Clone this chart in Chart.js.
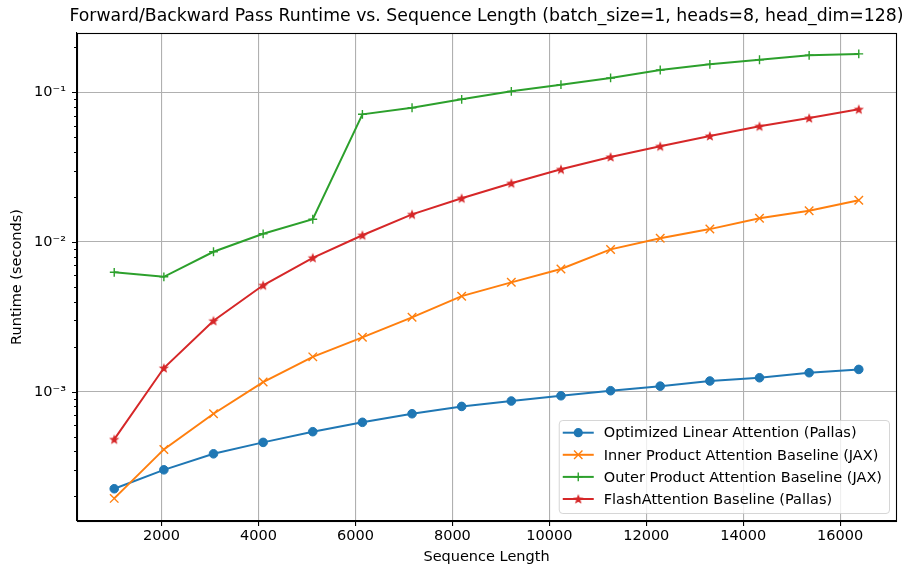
<!DOCTYPE html>
<html>
<head>
<meta charset="utf-8">
<script src="https://cdn.jsdelivr.net/npm/chart.js@4.4.1/dist/chart.umd.min.js"></script>
<style>
  html, body { margin: 0; padding: 0; background: #fff; }
  canvas { display: block; }
</style>
</head>
<body>
<canvas id="runtime_graph" width="911" height="566"></canvas>
<script>
// sequence lengths (x) and runtimes in seconds
var seqLens = [1024, 2048, 3072, 4096, 5120, 6144, 7168, 8192, 9216, 10240, 11264, 12288, 13312, 14336, 15360, 16384];

var linearPallas = [2.25e-4, 3.01e-4, 3.85e-4, 4.59e-4, 5.41e-4, 6.25e-4, 7.13e-4, 7.98e-4,
                    8.67e-4, 9.40e-4, 1.016e-3, 1.09e-3, 1.18e-3, 1.24e-3, 1.34e-3, 1.41e-3];
var innerJax = [1.94e-4, 4.12e-4, 7.13e-4, 1.16e-3, 1.71e-3, 2.31e-3, 3.14e-3, 4.35e-3,
                5.38e-3, 6.61e-3, 8.93e-3, 1.06e-2, 1.22e-2, 1.44e-2, 1.62e-2, 1.90e-2];
var outerJax = [6.28e-3, 5.86e-3, 8.61e-3, 1.135e-2, 1.42e-2, 7.13e-2, 7.89e-2, 8.98e-2,
                0.1015, 0.1125, 0.1247, 0.141, 0.1538, 0.165, 0.1767, 0.1805];
var flashPallas = [4.81e-4, 1.44e-3, 2.98e-3, 5.14e-3, 7.85e-3, 1.11e-2, 1.53e-2, 1.96e-2,
                   2.47e-2, 3.06e-2, 3.70e-2, 4.36e-2, 5.11e-2, 5.93e-2, 6.73e-2, 7.70e-2];

var labels = [
  "Optimized Linear Attention (Pallas)",
  "Inner Product Attention Baseline (JAX)",
  "Outer Product Attention Baseline (JAX)",
  "FlashAttention Baseline (Pallas)"
];
var xTicks = [2000, 4000, 6000, 8000, 10000, 12000, 14000, 16000];
var titleText = "Forward/Backward Pass Runtime vs. Sequence Length (batch_size=1, heads=8, head_dim=128)";

var FONT = "'DejaVu Sans', sans-serif";
var FS = 14.5;

function pairs(ys) {
  var out = [];
  for (var i in seqLens) out.push({x: seqLens[i], y: ys[i]});
  return out;
}

// filled 5-point star like matplotlib '*'
function makeStar(color) {
  var c = document.createElement('canvas');
  c.width = 14; c.height = 14;
  var g = c.getContext('2d');
  var R = 5.4, r = R * 0.42;
  g.beginPath();
  for (var k = 0; k < 10; k++) {
    var rad = (k % 2 === 0) ? R : r;
    var a = -Math.PI / 2 + k * Math.PI / 5;
    var px = 7 + rad * Math.cos(a), py = 7.4 + rad * Math.sin(a);
    if (k === 0) g.moveTo(px, py); else g.lineTo(px, py);
  }
  g.closePath();
  g.fillStyle = color;
  g.fill();
  return c;
}
var redStar = makeStar('#d62728');

function isDecade(v) {
  var e = Math.log10(v);
  return Math.abs(e - Math.round(e)) < 1e-6;
}
function sup(n) {
  var map = {'-': '\u207B', '0': '\u2070', '1': '\u00B9', '2': '\u00B2', '3': '\u00B3',
             '4': '\u2074', '5': '\u2075', '6': '\u2076', '7': '\u2077', '8': '\u2078', '9': '\u2079'};
  return String(n).split('').map(function(ch){ return map[ch]; }).join('');
}

var chartdata = {
  datasets: [
    {
      label: labels[0], data: pairs(linearPallas),
      borderColor: '#1f77b4', backgroundColor: '#1f77b4',
      pointStyle: 'circle', pointRadius: 4.3, pointBorderWidth: 1, order: 3
    },
    {
      label: labels[1], data: pairs(innerJax),
      borderColor: '#ff7f0e', backgroundColor: '#ff7f0e',
      pointStyle: 'crossRot', pointRadius: 6, pointBorderWidth: 1.4, order: 2
    },
    {
      label: labels[2], data: pairs(outerJax),
      borderColor: '#2ca02c', backgroundColor: '#2ca02c',
      pointStyle: 'cross', pointRadius: 4.4, pointBorderWidth: 1.4, order: 1
    },
    {
      label: labels[3], data: pairs(flashPallas),
      borderColor: '#d62728', backgroundColor: '#d62728',
      pointStyle: redStar, pointRadius: 5, order: 0
    }
  ]
};

var framePlugin = {
  id: 'frame',
  afterDraw: function(chart) {
    var ctx = chart.ctx, a = chart.chartArea;
    ctx.save();

    // y ticks: long at decades, short for minor
    var ys = chart.scales.y;
    ctx.strokeStyle = '#000';
    ctx.lineWidth = 1;
    ys.ticks.forEach(function(t) {
      var py = Math.round(ys.getPixelForValue(t.value)) + 0.5;
      var len = isDecade(t.value) ? 5 : 3;
      ctx.beginPath();
      ctx.moveTo(a.left - len, py);
      ctx.lineTo(a.left, py);
      ctx.stroke();
    });

    // axes box
    ctx.lineWidth = 1.1;
    ctx.strokeRect(Math.round(a.left) + 0.5, Math.round(a.top) + 0.5,
                   Math.round(a.right - a.left), Math.round(a.bottom - a.top));

    // title centred over the axes
    ctx.fillStyle = '#000';
    ctx.font = "17.3px " + FONT;
    ctx.textAlign = 'center';
    ctx.textBaseline = 'middle';
    ctx.fillText(titleText, (a.left + a.right) / 2, 17);

    // legend, lower right inside the axes
    ctx.font = FS + "px " + FONT;
    var maxW = 0;
    chart.data.datasets.forEach(function(ds) {
      maxW = Math.max(maxW, ctx.measureText(ds.label).width);
    });
    var bw = 4 + 31 + 10 + maxW + 7, bh = 93;
    var bx = a.right - 7 - bw, by = a.bottom - 8 - bh;
    ctx.beginPath();
    if (ctx.roundRect) ctx.roundRect(bx + 0.5, by + 0.5, bw, bh, 3.5);
    else ctx.rect(bx + 0.5, by + 0.5, bw, bh);
    ctx.fillStyle = 'rgba(255,255,255,0.8)';
    ctx.fill();
    ctx.strokeStyle = 'rgba(204,204,204,0.8)';
    ctx.lineWidth = 1;
    ctx.stroke();

    chart.data.datasets.forEach(function(ds, i) {
      var cy = by + 12.7 + i * 22.1;
      var x0 = bx + 4, x1 = x0 + 31, mx = (x0 + x1) / 2;
      ctx.strokeStyle = ds.borderColor;
      ctx.lineWidth = 2;
      ctx.beginPath();
      ctx.moveTo(x0, cy); ctx.lineTo(x1, cy);
      ctx.stroke();
      ctx.lineWidth = 1.4;
      if (ds.pointStyle === 'circle') {
        ctx.fillStyle = ds.borderColor;
        ctx.beginPath(); ctx.arc(mx, cy, 4.6, 0, Math.PI * 2); ctx.fill();
      } else if (ds.pointStyle === 'crossRot') {
        ctx.beginPath();
        ctx.moveTo(mx - 4.2, cy - 4.2); ctx.lineTo(mx + 4.2, cy + 4.2);
        ctx.moveTo(mx - 4.2, cy + 4.2); ctx.lineTo(mx + 4.2, cy - 4.2);
        ctx.stroke();
      } else if (ds.pointStyle === 'cross') {
        ctx.beginPath();
        ctx.moveTo(mx - 4.4, cy); ctx.lineTo(mx + 4.4, cy);
        ctx.moveTo(mx, cy - 4.4); ctx.lineTo(mx, cy + 4.4);
        ctx.stroke();
      } else {
        ctx.drawImage(ds.pointStyle, mx - 7, cy - 7);
      }
      ctx.fillStyle = '#000';
      ctx.textAlign = 'left';
      ctx.textBaseline = 'middle';
      ctx.fillText(ds.label, x1 + 10, cy + 1);
    });

    ctx.restore();
  }
};

var ctx = document.getElementById('runtime_graph');

var LineGraph = new Chart(ctx, {
  type: 'line',
  data: chartdata,
  plugins: [framePlugin],
  options: {
    responsive: false,
    animation: false,
    devicePixelRatio: 1,
    layout: { padding: { left: 0, top: 33, right: 15, bottom: 0 } },
    elements: {
      line: { borderWidth: 2, tension: 0, fill: false },
      point: { hoverRadius: 5 }
    },
    plugins: {
      legend: { display: false },
      title: { display: false },
      tooltip: { enabled: false }
    },
    scales: {
      x: {
        type: 'linear',
        min: 256,
        max: 17152,
        afterFit: function(s) { s.height = 45; },
        afterBuildTicks: function(s) {
          s.ticks = xTicks.map(function(v) { return {value: v}; });
        },
        ticks: {
          includeBounds: false,
          autoSkip: false,
          maxRotation: 0,
          padding: 2,
          color: '#000',
          font: { family: FONT, size: FS },
          callback: function(v) { return String(v); }
        },
        grid: { color: '#b0b0b0', lineWidth: 1.1, tickLength: 5, tickColor: '#000' },
        border: { color: '#000', width: 1.1 },
        title: {
          display: true, text: 'Sequence Length', color: '#000',
          font: { family: FONT, size: FS }, padding: { top: 0, bottom: 0.3 }
        }
      },
      y: {
        type: 'logarithmic',
        min: 1.37e-4,
        max: 0.249,
        afterFit: function(s) { s.width = 77; },
        afterBuildTicks: function(s) {
          s.ticks = s.ticks.filter(function(t) {
            var e = Math.floor(Math.log10(t.value) + 1e-9);
            var m = t.value / Math.pow(10, e);
            return Math.abs(m - Math.round(m)) < 1e-6;
          });
        },
        ticks: {
          autoSkip: false,
          padding: 11,
          color: '#000',
          font: { family: FONT, size: FS },
          callback: function(v) {
            return isDecade(v) ? '10' + sup(Math.round(Math.log10(v))) : '';
          }
        },
        grid: {
          drawTicks: false,
          lineWidth: 1.1,
          color: function(c) {
            return (c.tick && isDecade(c.tick.value)) ? '#b0b0b0' : 'rgba(0,0,0,0)';
          }
        },
        border: { color: '#000', width: 1.1 },
        title: {
          display: true, text: 'Runtime (seconds)', color: '#000',
          font: { family: FONT, size: FS }, padding: { top: 8.8, bottom: 0 }
        }
      }
    }
  }
});
</script>
</body>
</html>
